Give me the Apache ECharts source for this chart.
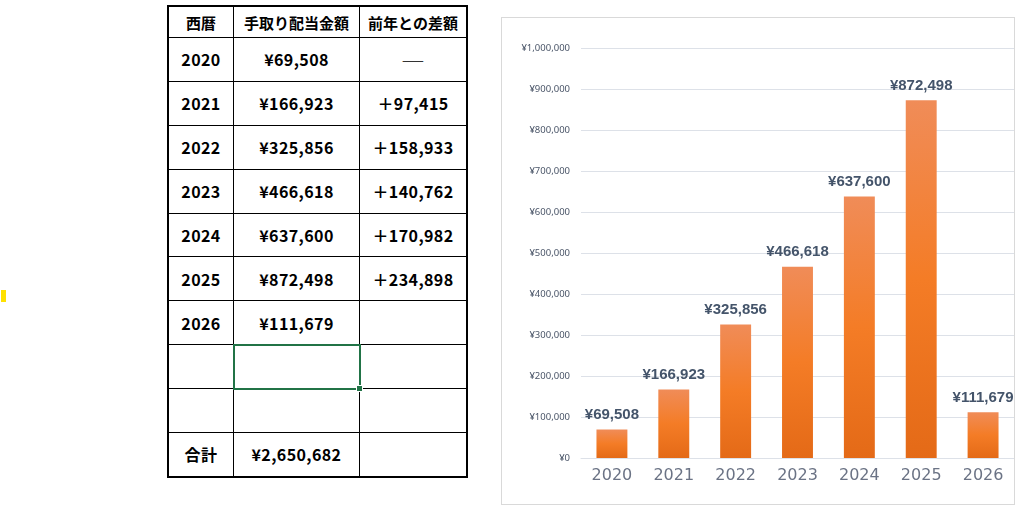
<!DOCTYPE html>
<html>
<head>
<meta charset="utf-8">
<script src="https://cdn.jsdelivr.net/npm/echarts@6/dist/echarts.min.js"></script>
<style>
  html, body { margin: 0; padding: 0; background: #fff; width: 1025px; height: 514px; overflow: hidden; }
  #mark { position: absolute; left: 1px; top: 290px; width: 5px; height: 12px; background: #ffe100; }
  #tbl { position: absolute; left: 167px; top: 5px; border-collapse: collapse; border: 2px solid #000;
    font-family: "Noto Sans CJK JP", "Noto Sans", sans-serif; font-weight: bold; color: #000; }
  #tbl td { border: 1px solid #000; padding: 0; text-align: center; font-size: 16px; position: relative; letter-spacing: 0.4px; }
  #tbl tr.head td { height: 30px; font-size: 15px; letter-spacing: 0; }
  #tbl tr.row td { height: 42.9px; }
  #tbl td.c1 { width: 64px; } #tbl td.c2 { width: 125px; } #tbl td.c3 { width: 106px; }
  #tbl td .dash { font-weight: normal; color: #333; display: inline-block; transform: scaleX(1.6); }
  #tbl td.sel { outline: 2px solid #217346; outline-offset: -1px; }
  #tbl td.sel .handle { position: absolute; right: -4px; bottom: -4px; width: 5px; height: 5px; background: #217346; border: 1px solid #fff; }
  #frame { position: absolute; left: 501px; top: 17px; width: 512px; height: 486px; border: 1px solid #d9d9d9; }
  #chart { position: absolute; left: 0; top: 0; width: 512px; height: 486px; }
</style>
</head>
<body>
<div id="mark"></div>
<table id="tbl"></table>
<div id="frame"><div id="chart"></div></div>
<script>
var headers = ['西暦', '手取り配当金額', '前年との差額'];
var years = ['2020', '2021', '2022', '2023', '2024', '2025', '2026'];
var amounts = [69508, 166923, 325856, 466618, 637600, 872498, 111679];
var diffs = ['—', '＋97,415', '＋158,933', '＋140,762', '＋170,982', '＋234,898', ''];
var totalLabel = '合計';
var totalAmount = '¥2,650,682';

function yen(v) {
  return '¥' + v.toLocaleString('en-US');
}

// table on the left
var html = '<tr class="head">' + headers.map(function(h, i) {
  return '<td class="c' + (i + 1) + '">' + h + '</td>';
}).join('') + '</tr>';
years.forEach(function(y, i) {
  var d = diffs[i] === '—' ? '<span class="dash">—</span>' : diffs[i];
  html += '<tr class="row"><td class="c1">' + y + '</td><td class="c2">' + yen(amounts[i]) + '</td><td class="c3">' + d + '</td></tr>';
});
html += '<tr class="row"><td class="c1"></td><td class="c2 sel"><div class="handle"></div></td><td class="c3"></td></tr>';
html += '<tr class="row"><td class="c1"></td><td class="c2"></td><td class="c3"></td></tr>';
html += '<tr class="row"><td class="c1">' + totalLabel + '</td><td class="c2">' + totalAmount + '</td><td class="c3"></td></tr>';
document.getElementById('tbl').innerHTML = html;

var myChart = echarts.init(document.getElementById('chart'));

var option = {
  animation: false,
  grid: {
    left: 79,
    right: 0,
    top: 30,
    bottom: 46
  },
  xAxis: {
    type: 'category',
    data: years,
    axisLine: { lineStyle: { color: '#dde1e8' } },
    axisTick: { show: false },
    axisLabel: {
      color: '#6b7385',
      fontSize: 16,
      fontFamily: 'DejaVu Sans, sans-serif',
      margin: 10
    }
  },
  yAxis: {
    type: 'value',
    min: 0,
    max: 1000000,
    interval: 100000,
    axisLine: { show: false },
    axisTick: { show: false },
    splitLine: { lineStyle: { color: '#dde1e8' } },
    axisLabel: {
      color: '#4a5568',
      fontSize: 9.5,
      fontFamily: 'Noto Sans, sans-serif',
      margin: 11,
      formatter: function(v) { return yen(v); }
    }
  },
  series: [{
    type: 'bar',
    data: amounts,
    barWidth: '50%',
    itemStyle: {
      color: new echarts.graphic.LinearGradient(0, 0, 0, 1, [
        { offset: 0, color: '#f08c58' },
        { offset: 0.5, color: '#f47c26' },
        { offset: 1, color: '#e46a17' }
      ])
    },
    label: {
      show: true,
      position: 'top',
      distance: 7,
      color: '#44546a',
      fontSize: 15,
      fontWeight: 'bold',
      fontFamily: 'Liberation Sans, sans-serif',
      formatter: function(p) { return yen(p.value); }
    }
  }]
};

myChart.setOption(option);
</script>
</body>
</html>
